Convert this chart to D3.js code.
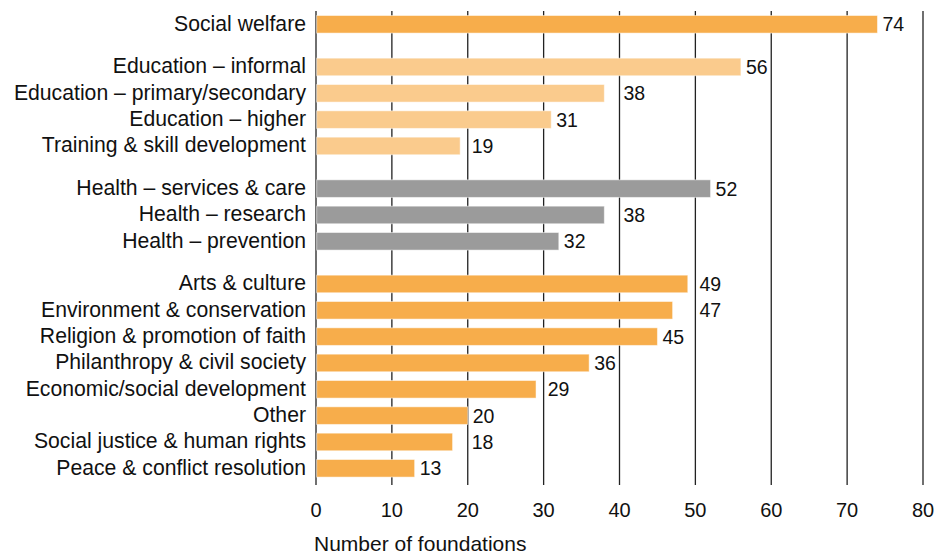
<!DOCTYPE html>
<html>
<head>
<meta charset="utf-8">
<script src="https://cdn.jsdelivr.net/npm/d3@7"></script>
<style>
    body { margin: 0; background: #fff; }
    svg text { font-family: "Liberation Sans", Arial, sans-serif; fill: #111; }
</style>
</head>
<body>
<div id="chart"></div>
<script>
// chart data
const categories = [
    "Social welfare",
    "Education – informal", "Education – primary/secondary", "Education – higher", "Training & skill development",
    "Health – services & care", "Health – research", "Health – prevention",
    "Arts & culture", "Environment & conservation", "Religion & promotion of faith",
    "Philanthropy & civil society", "Economic/social development", "Other",
    "Social justice & human rights", "Peace & conflict resolution"
];
const values = [74, 56, 38, 31, 19, 52, 38, 32, 49, 47, 45, 36, 29, 20, 18, 13];
const groups = [0, 1, 1, 1, 1, 2, 2, 2, 3, 3, 3, 3, 3, 3, 3, 3];
const groupColors = ["#f7ad4b", "#facb8d", "#9b9b9b", "#f7ad4b"];
const xTicks = [0, 10, 20, 30, 40, 50, 60, 70, 80];
const xTitle = "Number of foundations";

document.addEventListener("DOMContentLoaded", function() {
    renderChart();
});

function renderChart() {
    const width = 949;
    const height = 554;
    const left = 316, right = 923;
    const gapSlots = 0.62; // extra space between groups, in bar steps

    const data = categories.map((c, i) => ({
        name: c,
        value: values[i],
        group: groups[i],
        slot: i + groups[i] * gapSlots
    }));
    const lastSlot = d3.max(data, d => d.slot);

    const svg = d3.select("#chart")
        .append("svg")
        .attr("width", width)
        .attr("height", height);

    const x = d3.scaleLinear()
        .domain([0, 80])
        .range([left, right]);

    // slot -> top of bar
    const y = d3.scaleLinear()
        .domain([0, lastSlot])
        .range([15.5, 459.5]);
    const barH = 17.6;

    // grid lines
    svg.append("g")
        .selectAll("line")
        .data(xTicks)
        .enter()
        .append("line")
        .attr("x1", d => x(d))
        .attr("x2", d => x(d))
        .attr("y1", 11)
        .attr("y2", 485)
        .attr("stroke", "#222")
        .attr("stroke-width", 1.3);

    // bars
    svg.append("g")
        .selectAll("rect")
        .data(data)
        .enter()
        .append("rect")
        .attr("x", x(0) + 0.7)
        .attr("y", d => y(d.slot))
        .attr("width", d => x(d.value) - x(0) - 0.7)
        .attr("height", barH)
        .attr("fill", d => groupColors[d.group])
        .attr("stroke", "#fff")
        .attr("stroke-opacity", 0.5)
        .attr("stroke-width", 1);

    // category labels
    svg.append("g")
        .selectAll("text")
        .data(data)
        .enter()
        .append("text")
        .attr("x", 306)
        .attr("y", d => y(d.slot) + barH / 2 + 6.5)
        .attr("text-anchor", "end")
        .attr("font-size", 21.2)
        .text(d => d.name);

    // value labels, pushed past a grid line if they would sit on it
    svg.append("g")
        .selectAll("text")
        .data(data)
        .enter()
        .append("text")
        .attr("y", d => y(d.slot) + barH / 2 + 7)
        .attr("font-size", 19.5)
        .text(d => d.value)
        .each(function(d) {
            const w = this.getComputedTextLength();
            let x0 = x(d.value) + 5;
            xTicks.forEach(t => {
                const gx = x(t);
                if (gx >= x0 - 2 && gx <= x0 + w + 1) x0 = gx + 4;
            });
            d3.select(this).attr("x", x0);
        });

    // x tick labels
    svg.append("g")
        .selectAll("text")
        .data(xTicks)
        .enter()
        .append("text")
        .attr("x", d => x(d))
        .attr("y", 516.5)
        .attr("text-anchor", "middle")
        .attr("font-size", 20)
        .text(d => d);

    svg.append("text")
        .attr("x", 314)
        .attr("y", 551)
        .attr("font-size", 21)
        .text(xTitle);
}
</script>
</body>
</html>
